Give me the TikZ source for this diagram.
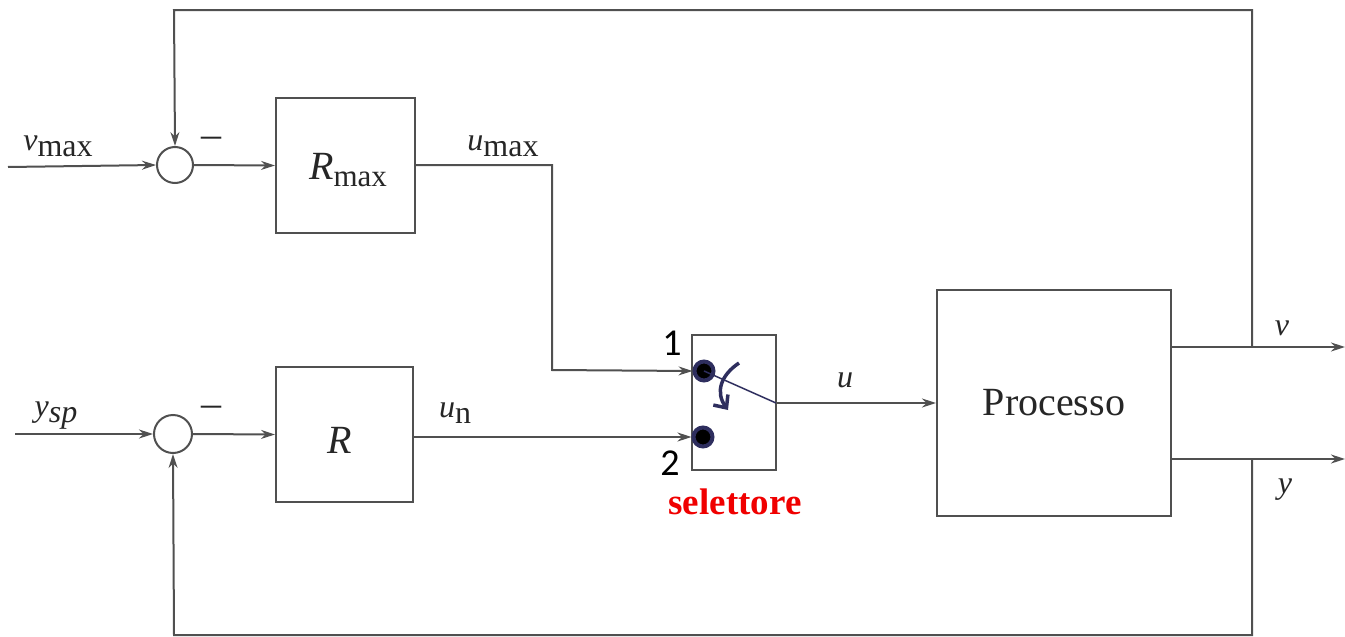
\documentclass[tikz,border=0pt]{standalone}
\usepackage{fontspec}
\setmainfont{Liberation Serif}
\newfontfamily\serf{Liberation Serif}
\newfontfamily\digitfont{Carlito}
\usetikzlibrary{arrows.meta}
\definecolor{ln}{HTML}{505050}
\definecolor{navy}{HTML}{2E2E5E}
\begin{document}
\begin{tikzpicture}[x=1pt,y=-1pt,
  wire/.style={draw=ln,line width=2pt},
  arr/.style={wire,-{Stealth[length=14pt,width=9pt]}},
  blk/.style={draw=ln,line width=2pt,rectangle,inner sep=0pt},
  sumn/.style={draw=ln,line width=2pt,circle,inner sep=0pt,minimum size=36pt},
  lab/.style={font=\serf\fontsize{32}{32}\selectfont,text=black!85,inner sep=0pt},
  big/.style={font=\serf\fontsize{40}{40}\selectfont,text=black!85,inner sep=0pt},
  num/.style={font=\digitfont\fontsize{38}{38}\selectfont,inner sep=0pt},
  dot/.style={circle,fill=black,draw=navy,line width=4pt,minimum size=19pt,inner sep=0pt}]
\useasboundingbox (0,0) rectangle (1345,637);
% blocks
\node[sumn] (s1) at (175,165) {};
\node[sumn,minimum size=38pt] (s2) at (173,434) {};
\node[blk,minimum width=139pt,minimum height=135pt] (rmax) at (345.5,165.5) {};
\node[blk,minimum width=137pt,minimum height=135pt] (r) at (344.5,434.5) {};
\node[blk,minimum width=84pt,minimum height=135pt] (sel) at (734,402.5) {};
\node[blk,minimum width=234pt,minimum height=226pt] (proc) at (1054,403) {};
\node[big] (rmaxl) at (348,170) {\itshape R\upshape\raisebox{-7pt}{\fontsize{31}{31}\selectfont max}};
\node[big] (rl) at (340,440) {\itshape R};
\node[big] (procl) at (1054,403) {Processo};
% switch
\node[dot] (d1) at (704,371) {};
\node[dot] (d2) at (703,437) {};
\coordinate (sw) at (776,403);
\draw[navy,line width=1.5pt] (d1.center) -- (sw);
\draw[navy,line width=3.5pt,-{Straight Barb[length=10pt,width=18pt]}] (739,363) .. controls (721,375) and (715,392) .. (728,410);
% inputs
\coordinate (vin) at (8,167);
\coordinate (yin) at (15,434);
\draw[arr] (vin) -- (s1.west);
\draw[arr] (yin) -- (s2.west);
\draw[arr] (s1.east) -- (rmax.west);
\draw[arr] (s2.east) -- (r.west);
% controller outputs
\coordinate (c1) at (552,165);
\coordinate (c2) at (552,370);
\draw[arr] (rmax.east |- c1) -- (c1) -- (c2) -- (d1.west);
\draw[arr] (r.east |- d2) -- (d2.west);
\draw[arr] (sw) -- (proc.west |- sw);
% outputs
\coordinate (vo) at (1345,347);
\coordinate (yo) at (1345,459);
\coordinate (jv) at (1252,347);
\coordinate (jy) at (1252,459);
\draw[arr] (proc.east |- vo) -- (vo);
\draw[arr] (proc.east |- yo) -- (yo);
% feedback
\coordinate (t1) at (1252,10);
\coordinate (t2) at (174,10);
\coordinate (b1) at (1252,635);
\coordinate (b2) at (174,635);
\draw[arr] (jv) -- (t1) -- (t2) -- (s1.north);
\draw[arr] (jy) -- (b1) -- (b2) -- (s2.south);
% labels
\node[lab] (vmaxl) at (58,146) {\itshape v\upshape\raisebox{-6pt}{max}};
\node[lab] (ysplab) at (56,416) {\itshape y\raisebox{-6pt}{sp}};
\node[lab,font=\serf\fontsize{40}{40}\selectfont] (m1) at (211,142) {–};
\node[lab,font=\serf\fontsize{40}{40}\selectfont] (m2) at (211,411) {–};
\node[lab] (umaxl) at (503,146) {\itshape u\upshape\raisebox{-6pt}{max}};
\node[lab] (unl) at (455,413) {\itshape u\upshape\raisebox{-6pt}{n}};
\node[lab] (ul) at (845,380) {\itshape u};
\node[lab] (vl) at (1282,328) {\itshape v};
\node[lab] (yl) at (1285,490) {\itshape y};
\node[num] (n1) at (672,343) {1};
\node[num] (n2) at (670,463) {2};
\node[font=\serf\bfseries\fontsize{37}{37}\selectfont,text={rgb,255:red,240;green,0;blue,0},inner sep=0pt] (sell) at (735,502) {selettore};
\end{tikzpicture}
\end{document}
